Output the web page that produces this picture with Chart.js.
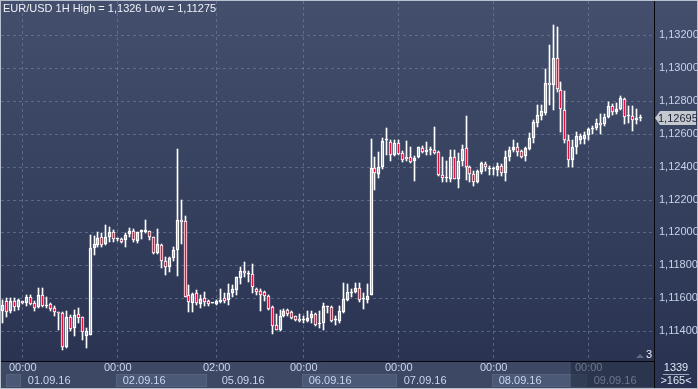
<!DOCTYPE html>
<html>
<head>
<meta charset="utf-8">
<script src="https://cdn.jsdelivr.net/npm/chart.js@4.4.0/dist/chart.umd.min.js"></script>
<style>
  html, body { margin: 0; padding: 0; background: #c3c9d3; }
  #wrap { width: 698px; height: 389px; }
</style>
</head>
<body>
<div id="wrap"><canvas id="chart" width="698" height="389"></canvas></div>
<script>
// ---------------- DATA ----------------
const title = "EUR/USD 1H High = 1,1326 Low = 1,11275";

// trading sessions: date, first hour, last hour (one slot per hour)
const sessions = [
  ["31.08.16", 19, 23], ["01.09.16", 0, 23], ["02.09.16", 0, 22], ["05.09.16", 0, 23],
  ["06.09.16", 0, 23], ["07.09.16", 0, 23], ["08.09.16", 0, 23], ["09.09.16", 0, 16]
];

// labelled time marks on the bottom axis
const markSlots = ["01.09.16 00:00", "02.09.16 00:00", "05.09.16 02:00", "06.09.16 00:00",
                   "07.09.16 00:00", "08.09.16 00:00", "09.09.16 00:00"];

const yTicks = [1.114, 1.116, 1.118, 1.120, 1.122, 1.124, 1.126, 1.128, 1.130, 1.132];

const opens = [
  1.1152, 1.1158, 1.11519, 1.11584, 1.11546, 1.1158, 1.1157, 1.1161, 1.11568, 1.11546,
  1.11618, 1.1155, 1.11564, 1.11539, 1.11513, 1.11509, 1.11303, 1.11485, 1.11418, 1.11503,
  1.11485, 1.11368, 1.11374, 1.11903, 1.11923, 1.1197, 1.11927, 1.11974, 1.12, 1.11958,
  1.11958, 1.11954, 1.11988, 1.1201, 1.11949, 1.12, 1.12004, 1.12008, 1.1197, 1.11877,
  1.11921, 1.11826, 1.11792, 1.11846, 1.11893, 1.12075, 1.12069, 1.1162, 1.1157, 1.1163,
  1.11566, 1.116, 1.11582, 1.1157, 1.11564, 1.11576, 1.11602, 1.11586, 1.1163, 1.1165,
  1.11725, 1.11766, 1.11745, 1.11745, 1.11655, 1.11643, 1.11637, 1.11616, 1.11547, 1.11439,
  1.11408, 1.1149, 1.11527, 1.11514, 1.1149, 1.11476, 1.11465, 1.11459, 1.1148, 1.11504,
  1.11443, 1.11449, 1.11545, 1.11545, 1.11465, 1.11459, 1.11516, 1.11588, 1.11633, 1.11637,
  1.11663, 1.11592, 1.11588, 1.1162, 1.12392, 1.12357, 1.12398, 1.12561, 1.12549, 1.12473,
  1.12545, 1.12484, 1.12461, 1.12461, 1.12433, 1.12457, 1.12512, 1.1249, 1.125, 1.12502,
  1.12488, 1.12351, 1.12331, 1.12327, 1.12461, 1.12327, 1.12437, 1.12514, 1.12396, 1.12355,
  1.12304, 1.12365, 1.12416, 1.12384, 1.12384, 1.1238, 1.12406, 1.12359, 1.12461, 1.12502,
  1.12522, 1.12492, 1.12467, 1.12508, 1.12576, 1.12667, 1.12708, 1.12729, 1.12906, 1.12896,
  1.13059, 1.12865, 1.12747, 1.12559, 1.12441, 1.12518, 1.12563, 1.12569, 1.1259, 1.12629,
  1.12633, 1.12667, 1.12657, 1.12702, 1.12767, 1.12733, 1.12753, 1.12814, 1.12706, 1.12708,
  1.12686, 1.12694
];
const highs = [
  1.1159, 1.116, 1.116, 1.116, 1.11598, 1.11584, 1.11618, 1.11622, 1.1158, 1.11661,
  1.11661, 1.1161, 1.1157, 1.1155, 1.11513, 1.11513, 1.11519, 1.11499, 1.11529, 1.11539,
  1.11485, 1.11418, 1.11984, 1.1198, 1.12004, 1.11994, 1.12044, 1.12034, 1.12014, 1.11964,
  1.11964, 1.11994, 1.12024, 1.12018, 1.12004, 1.12014, 1.12075, 1.12008, 1.1197, 1.1202,
  1.1193, 1.11853, 1.11853, 1.11913, 1.1251, 1.12196, 1.12099, 1.11681, 1.1163, 1.1165,
  1.11618, 1.1164, 1.11586, 1.11572, 1.11586, 1.11655, 1.1163, 1.11687, 1.11681, 1.11731,
  1.11792, 1.11818, 1.11768, 1.11808, 1.11661, 1.11653, 1.11643, 1.1162, 1.11551, 1.11506,
  1.11531, 1.11535, 1.11535, 1.1152, 1.11494, 1.11506, 1.1149, 1.1152, 1.1152, 1.1151,
  1.1152, 1.11571, 1.11555, 1.11555, 1.1149, 1.11555, 1.11694, 1.11684, 1.11653, 1.11694,
  1.1169, 1.11633, 1.11684, 1.12565, 1.12459, 1.12486, 1.12571, 1.12636, 1.12563, 1.12563,
  1.12563, 1.12494, 1.12553, 1.12522, 1.12463, 1.12522, 1.12525, 1.12549, 1.12518, 1.12641,
  1.12494, 1.12461, 1.12437, 1.12502, 1.12498, 1.12482, 1.12529, 1.12706, 1.12406, 1.12371,
  1.1238, 1.12431, 1.12427, 1.12406, 1.12396, 1.1242, 1.12416, 1.12494, 1.12518, 1.12563,
  1.12543, 1.12498, 1.12522, 1.12604, 1.12686, 1.12773, 1.12773, 1.12992, 1.13141, 1.13263,
  1.13249, 1.12916, 1.12861, 1.1259, 1.12559, 1.1261, 1.126, 1.1261, 1.12637, 1.12645,
  1.12692, 1.12722, 1.12722, 1.12794, 1.1278, 1.12788, 1.12828, 1.1282, 1.12767, 1.12767,
  1.12753, 1.12712
];
const lows = [
  1.1145, 1.11485, 1.11509, 1.11519, 1.11529, 1.11566, 1.1155, 1.1156, 1.11519, 1.11539,
  1.11546, 1.11543, 1.11525, 1.11489, 1.11404, 1.11283, 1.11297, 1.11398, 1.11368, 1.11449,
  1.11344, 1.11297, 1.11374, 1.11863, 1.11913, 1.11913, 1.11923, 1.11943, 1.11939, 1.1195,
  1.11933, 1.11913, 1.11974, 1.11943, 1.11937, 1.11962, 1.11994, 1.11954, 1.11867, 1.11867,
  1.11782, 1.11741, 1.11762, 1.11828, 1.11737, 1.11927, 1.1161, 1.11513, 1.11513, 1.1156,
  1.11543, 1.1155, 1.1155, 1.11568, 1.11558, 1.1157, 1.1157, 1.1156, 1.1161, 1.1162,
  1.11685, 1.11727, 1.117, 1.1163, 1.1162, 1.1152, 1.11582, 1.11531, 1.11384, 1.11404,
  1.11398, 1.11486, 1.1149, 1.11474, 1.11461, 1.11455, 1.11449, 1.11455, 1.11449, 1.11429,
  1.11418, 1.11404, 1.1151, 1.11455, 1.11439, 1.11449, 1.1151, 1.11582, 1.11608, 1.11633,
  1.11576, 1.11537, 1.11571, 1.1162, 1.12255, 1.12332, 1.12388, 1.12469, 1.12433, 1.12467,
  1.12473, 1.12427, 1.12437, 1.1242, 1.12314, 1.12453, 1.12482, 1.12471, 1.12473, 1.12478,
  1.12343, 1.12304, 1.12304, 1.12304, 1.12322, 1.12269, 1.12406, 1.12318, 1.12304, 1.12284,
  1.12298, 1.12355, 1.12376, 1.12351, 1.12351, 1.12345, 1.12345, 1.12314, 1.12437, 1.12488,
  1.12467, 1.12453, 1.12433, 1.12502, 1.12543, 1.12641, 1.12682, 1.12712, 1.12773, 1.12747,
  1.12855, 1.1261, 1.12543, 1.12396, 1.124, 1.12478, 1.12535, 1.12539, 1.12559, 1.126,
  1.1262, 1.126, 1.12645, 1.12698, 1.12712, 1.12722, 1.12747, 1.12661, 1.12665, 1.12616,
  1.12661, 1.12678
];
const closes = [
  1.1156, 1.11515, 1.11584, 1.11546, 1.11586, 1.1157, 1.1161, 1.11564, 1.11543, 1.11618,
  1.11554, 1.1156, 1.11533, 1.11515, 1.11509, 1.11303, 1.11485, 1.11412, 1.11499, 1.11479,
  1.11392, 1.11398, 1.11903, 1.11927, 1.11964, 1.11923, 1.1197, 1.12, 1.11958, 1.11958,
  1.11943, 1.11984, 1.12008, 1.11954, 1.12004, 1.12014, 1.12014, 1.1197, 1.11877, 1.1193,
  1.11826, 1.11792, 1.11842, 1.11893, 1.12075, 1.12063, 1.1161, 1.11574, 1.11626, 1.1157,
  1.11594, 1.11576, 1.11564, 1.1157, 1.11582, 1.1159, 1.1158, 1.1163, 1.11655, 1.11727,
  1.11766, 1.11752, 1.11745, 1.11667, 1.1164, 1.11622, 1.11616, 1.11537, 1.11433, 1.11408,
  1.1149, 1.11525, 1.11506, 1.1148, 1.11465, 1.11459, 1.11467, 1.11482, 1.11502, 1.11435,
  1.11449, 1.11551, 1.11551, 1.11459, 1.11469, 1.11525, 1.11596, 1.11637, 1.11637, 1.11663,
  1.11588, 1.11592, 1.11616, 1.12392, 1.12361, 1.12398, 1.12557, 1.12561, 1.12471, 1.12545,
  1.12478, 1.12441, 1.12445, 1.12427, 1.12453, 1.12518, 1.12488, 1.12502, 1.12502, 1.12484,
  1.12347, 1.12333, 1.12335, 1.12461, 1.12327, 1.12437, 1.12508, 1.12396, 1.12355, 1.12304,
  1.12371, 1.1242, 1.12396, 1.12386, 1.1239, 1.12406, 1.12359, 1.12461, 1.12502, 1.12522,
  1.12488, 1.12461, 1.12512, 1.12576, 1.12671, 1.12712, 1.12739, 1.12906, 1.12894, 1.13059,
  1.12869, 1.12753, 1.12559, 1.12441, 1.12518, 1.12584, 1.12584, 1.1259, 1.12631, 1.12631,
  1.12667, 1.12655, 1.12702, 1.12767, 1.12733, 1.12753, 1.12818, 1.12702, 1.12708, 1.12686,
  1.12698, 1.12695
];

// ---------------- DERIVED ----------------
const labels = [];
const sessionStart = [];
sessions.forEach(([d, h0, h1]) => {
  sessionStart.push(labels.length);
  for (let h = h0; h <= h1; h++) labels.push(d + " " + String(h).padStart(2, "0") + ":00");
});
const markIdx = markSlots.map(s => labels.indexOf(s));

const upperWick = opens.map((o, i) => [Math.max(o, closes[i]), highs[i]]);
const lowerWick = opens.map((o, i) => [lows[i], Math.min(o, closes[i])]);
const bodies = opens.map((o, i) => [o, closes[i]]);
const lastPrice = closes[closes.length - 1];

const fmt = v => v.toFixed(5).replace(".", ",");
const FAMILY = "'Liberation Sans', Arial, sans-serif";
const FONT = "11px " + FAMILY;

// ---------------- DRAWING PLUGIN ----------------
const terminal = {
  id: "terminal",
  beforeDraw(chart) {
    const { ctx, chartArea: a, width, height, scales: { x, y } } = chart;
    const g = ctx.createLinearGradient(0, 0, 0, a.bottom);
    g.addColorStop(0, "#434f6c");
    g.addColorStop(1, "#2a3452");
    ctx.save();
    ctx.fillStyle = g;
    ctx.fillRect(0, 0, width, height);

    // dashed grid
    ctx.strokeStyle = "rgba(120,136,168,0.55)";
    ctx.lineWidth = 1;
    ctx.setLineDash([3, 3]);
    ctx.beginPath();
    y.ticks.forEach(t => {
      const py = Math.round(y.getPixelForValue(t.value)) + 0.5;
      ctx.moveTo(a.left, py);
      ctx.lineTo(a.right, py);
    });
    markIdx.forEach(i => {
      const px = Math.floor(x.getPixelForValue(i)) + 0.5;
      ctx.moveTo(px, a.top);
      ctx.lineTo(px, a.bottom);
    });
    ctx.stroke();
    ctx.restore();
  },
  // snap candle elements to whole pixels so wicks stay crisp
  beforeDatasetsDraw(chart) {
    chart.data.datasets.forEach((ds, k) => {
      chart.getDatasetMeta(k).data.forEach(el => {
        el.x = Math.floor(el.x) + 0.5;
        el.y = Math.round(el.y);
        el.base = Math.round(el.base);
      });
    });
  },
  afterDraw(chart) {
    const { ctx, chartArea: a, width, height, scales: { x, y } } = chart;
    const slot = x.getPixelForValue(1) - x.getPixelForValue(0);
    ctx.save();
    ctx.font = FONT;
    ctx.textBaseline = "middle";

    // title
    ctx.fillStyle = "#eef1f7";
    ctx.textAlign = "left";
    ctx.fillText(title, 3, 9);

    // bottom strip
    const top = a.bottom + 1;
    ctx.fillStyle = "#3c4864";
    ctx.fillRect(0, top, a.right, height - top);
    const rowY = top + 12;
    for (let k = 0; k < sessionStart.length; k++) {
      const x0 = k === 0 ? 6 : x.getPixelForValue(sessionStart[k]) - slot / 2;
      const x1 = k + 1 < sessionStart.length ? x.getPixelForValue(sessionStart[k + 1]) - slot / 2 : a.right;
      if (k % 2 === 0) {
        ctx.fillStyle = "#4b5876";
        ctx.fillRect(Math.round(x0), rowY, Math.round(x1 - x0), height - rowY - 2);
        ctx.strokeStyle = "#56637f";
        ctx.strokeRect(Math.round(x0) + 0.5, rowY + 0.5, Math.round(x1 - x0) - 1, height - rowY - 3);
      }
    }
    markIdx.forEach((i, k) => {
      const px = x.getPixelForValue(i);
      const [d, t] = markSlots[k].split(" ");
      ctx.fillStyle = "#c9d6ee";
      ctx.textAlign = "center";
      ctx.fillText(t, px, top + 6);
      ctx.textAlign = "left";
      ctx.fillText(d, px + 5, rowY + 7);
    });
    // dimmed scroll region
    const sx = x.getPixelForValue(144) - slot / 2;
    ctx.fillStyle = "rgba(30,38,58,0.55)";
    ctx.fillRect(sx, top, a.right - sx, height - top - 2);

    // separators
    ctx.strokeStyle = "#05070c";
    ctx.beginPath();
    ctx.moveTo(0, a.bottom + 0.5);
    ctx.lineTo(a.right + 1, a.bottom + 0.5);
    ctx.moveTo(a.right + 0.5, 0);
    ctx.lineTo(a.right + 0.5, height);
    ctx.stroke();

    // bar count corner
    const cx = (a.right + width) / 2;
    ctx.fillStyle = "#dfe6f2";
    ctx.textAlign = "center";
    ctx.fillText("1339", cx, top + 6);
    ctx.fillText(">165<", cx, top + 19);
    ctx.strokeStyle = "#9aa6ba";
    ctx.beginPath();
    ctx.moveTo(cx - 13, top + 12.5);
    ctx.lineTo(cx + 13, top + 12.5);
    ctx.stroke();

    // "3" marker
    ctx.fillStyle = "#5f6b82";
    ctx.beginPath();
    ctx.moveTo(a.right - 18, a.bottom - 3);
    ctx.lineTo(a.right - 14, a.bottom - 7);
    ctx.lineTo(a.right - 10, a.bottom - 3);
    ctx.fill();
    ctx.fillStyle = "#e6ebf4";
    ctx.fillText("3", a.right - 5, a.bottom - 6);

    // last price tag
    const py = Math.round(y.getPixelForValue(lastPrice));
    ctx.fillStyle = "#c4c8cf";
    ctx.beginPath();
    ctx.moveTo(a.right + 1, py);
    ctx.lineTo(a.right + 6, py - 7);
    ctx.lineTo(width - 2, py - 7);
    ctx.lineTo(width - 2, py + 7);
    ctx.lineTo(a.right + 6, py + 7);
    ctx.closePath();
    ctx.fill();
    ctx.fillStyle = "#1c2233";
    ctx.textAlign = "left";
    ctx.fillText(fmt(lastPrice), a.right + 4, py + 0.5);

    // frame
    ctx.strokeStyle = "#b9c1ce";
    ctx.strokeRect(0.5, 0.5, width - 1, height - 1);
    ctx.restore();
  }
};

// ---------------- CHART ----------------
new Chart(document.getElementById("chart"), {
  type: "bar",
  data: {
    labels,
    datasets: [
      { data: upperWick, backgroundColor: "#ffffff", barThickness: 1, grouped: false, order: 2 },
      { data: lowerWick, backgroundColor: "#ffffff", barThickness: 1, grouped: false, order: 2 },
      {
        data: bodies,
        backgroundColor: c => (closes[c.dataIndex] < opens[c.dataIndex] ? "#e3123d" : "rgba(0,0,0,0)"),
        borderColor: "#ffffff",
        borderWidth: 1,
        borderSkipped: false,
        minBarLength: 1,
        barThickness: 3,
        grouped: false,
        order: 1
      }
    ]
  },
  options: {
    responsive: false,
    animation: false,
    devicePixelRatio: 1,
    layout: { padding: { left: 1, right: 1, top: 1, bottom: 1 } },
    plugins: { legend: { display: false }, tooltip: { enabled: false } },
    scales: {
      x: {
        type: "category",
        offset: true,
        grid: { display: false },
        border: { display: false },
        ticks: { display: false },
        afterFit: s => { s.height = 27; }
      },
      y: {
        position: "right",
        min: 1.11218,
        max: 1.13407,
        grid: { display: false, drawTicks: false },
        border: { display: false },
        afterBuildTicks: s => { s.ticks = yTicks.map(v => ({ value: v })); },
        afterFit: s => { s.width = 43; s.paddingTop = 0; s.paddingBottom = 0; },
        ticks: {
          color: "#c6d3ea",
          padding: 5,
          font: { family: FAMILY, size: 11 },
          callback: v => fmt(v)
        }
      }
    }
  },
  plugins: [terminal]
});
</script>
</body>
</html>
